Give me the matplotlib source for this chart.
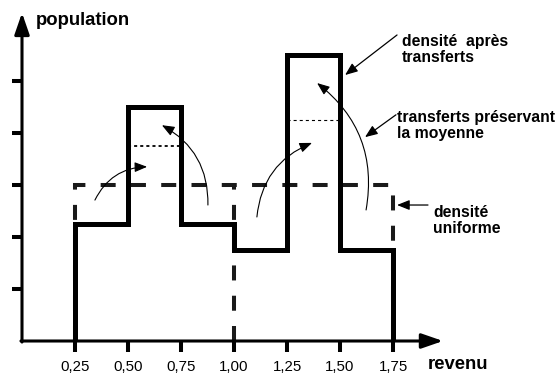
import matplotlib
matplotlib.use("Agg")
import matplotlib.pyplot as plt

plt.rcParams['font.family'] = ['Liberation Sans', 'DejaVu Sans']
plt.rcParams['lines.scale_dashes'] = False

# ---- data ----
edges = [0.25, 0.50, 0.75, 1.00, 1.25, 1.50, 1.75]
density_after = [2.25, 4.5, 2.25, 1.75, 5.5, 1.75]
uniform_level = 3.0
uniform_edges = [0.25, 1.75]
uniform_split = 1.00
transfer_bins = [(0.50, 0.75), (1.25, 1.50)]
transfer_levels = [3.75, 4.25]
x_ticks = [0.25, 0.50, 0.75, 1.00, 1.25, 1.50, 1.75]
x_tick_labels = ['0,25', '0,50', '0,75', '1,00', '1,25', '1,50', '1,75']
y_ticks = [1, 2, 3, 4, 5]

fig = plt.figure(figsize=(5.6, 3.76), dpi=100)
ax = fig.add_axes([0, 0, 1, 1])
ax.set_xlim(-22 / 212, (560 - 22) / 212)
ax.set_ylim((341 - 376) / 52, 341 / 52)

for s in ax.spines.values():
    s.set_visible(False)
ax.spines['left'].set_position(('data', 0))
ax.spines['bottom'].set_position(('data', 0))

ax.set_xticks(x_ticks)
ax.set_xticklabels(x_tick_labels)
ax.set_yticks(y_ticks)
ax.set_yticklabels([])
ax.tick_params(axis='x', direction='out', length=8, width=2.9, pad=6,
               labelsize=10.8, colors='black')
ax.tick_params(axis='y', direction='out', length=7, width=2.9, colors='black')

# uniform density (dashed)
ax.stairs([uniform_level], uniform_edges, baseline=0, color='#1a1a1a',
          lw=2.9, linestyle=(0, (10.8, 11)), zorder=2)
ax.vlines(uniform_split, 0, uniform_level, color='#1a1a1a', lw=2.9,
          linestyle=(0, (10.8, 11)), zorder=2)

# density after transfers (solid)
ax.stairs(density_after, edges, baseline=0, color='black', lw=3.6, zorder=3)

# transfer levels (dotted)
for (a, b), lev, lw in zip(transfer_bins, transfer_levels, [1.3, 0.8]):
    ax.hlines(lev, a, b, color='black', lw=lw, linestyle=(0, (2.2, 2.2)), zorder=2)

# axes arrows
axis_arrow = dict(arrowstyle='-|>,head_length=1.3,head_width=0.45', lw=2.2,
                  color='black', shrinkA=0, shrinkB=0, mutation_scale=10)
ax.annotate('', xy=(0, 6.31), xytext=(0, -0.02), arrowprops=axis_arrow, zorder=5)
ax.annotate('', xy=(1.986, 0), xytext=(-0.005, 0), arrowprops=axis_arrow, zorder=5)

ax.text(0.066, 6.08, 'population', fontsize=13.3, fontweight='bold',
        ha='left', va='baseline')
ax.text(1.915, -0.54, 'revenu', fontsize=13.3, fontweight='bold',
        ha='left', va='baseline')

# curved transfer arrows
def curved(start, end, rad):
    ax.annotate('', xy=end, xytext=start,
                arrowprops=dict(arrowstyle='-|>,head_length=0.75,head_width=0.3',
                                connectionstyle=f'arc3,rad={rad}', lw=0.8,
                                color='black', shrinkA=0, shrinkB=0,
                                mutation_scale=10), zorder=4)

curved((0.344, 2.71), (0.590, 3.35), -0.3)
curved((0.877, 2.615), (0.660, 4.15), 0.3)
curved((1.108, 2.385), (1.368, 3.81), -0.3)
curved((1.623, 2.52), (1.392, 4.96), 0.3)

# labelled annotations (text anchored at baseline of its last line)
def label(tip, start, text_xy, text):
    ax.annotate('', xy=tip, xytext=start,
                arrowprops=dict(arrowstyle='-|>,head_length=0.75,head_width=0.3',
                                lw=0.9, color='black', shrinkA=0, shrinkB=0,
                                mutation_scale=10), zorder=4)
    ax.text(text_xy[0], text_xy[1], text, fontsize=11.3, fontweight='bold',
            ha='left', va='baseline', linespacing=1.1)

label((1.524, 5.115), (1.769, 5.885), (1.792, 5.365), 'densité  après\ntransferts')
label((1.618, 3.92), (1.764, 4.35), (1.769, 3.90), 'transferts préservant\nla moyenne')
label((1.769, 2.615), (1.915, 2.615), (1.939, 2.077), 'densité\nuniforme')

fig.savefig('out.png', dpi=100)
